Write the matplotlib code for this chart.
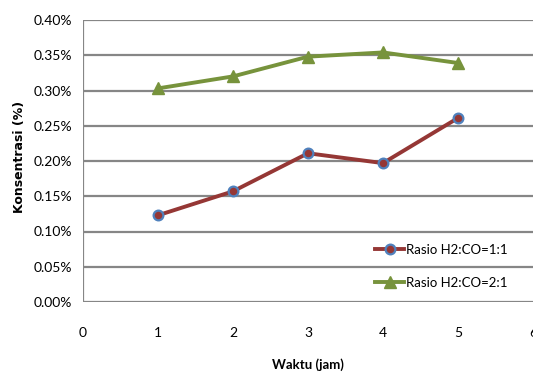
import numpy as np
import matplotlib
matplotlib.use("Agg")
import matplotlib.pyplot as plt
from matplotlib.ticker import FuncFormatter

# konsentrasi (%) terhadap waktu reaksi
waktu = [1, 2, 3, 4, 5]
rasio_1_1 = [0.123, 0.157, 0.211, 0.197, 0.261]
rasio_2_1 = [0.303, 0.320, 0.348, 0.354, 0.339]
label_1_1 = "Rasio H2:CO=1:1"
label_2_1 = "Rasio H2:CO=2:1"
y_ticks = [0.00, 0.05, 0.10, 0.15, 0.20, 0.25, 0.30, 0.35, 0.40]
x_ticks = [0, 1, 2, 3, 4, 5, 6]

plt.rcParams["font.family"] = ["Lato", "DejaVu Sans"]

fig = plt.figure(figsize=(5.33, 3.76), dpi=100)
W, H = 533, 376
ax = fig.add_axes([83 / W, 1 - 302 / H, 450 / W, 282 / H])

grid_col = "#868686"
for y in y_ticks:
    ax.axhline(y, color=grid_col, lw=1.6, zorder=1)
ax.axvline(0, color=grid_col, lw=1.6, zorder=1)

ax.plot(waktu, rasio_1_1, color="#953735", lw=2.8, marker="o", ms=7,
        mfc="#953735", mec="#4f81bd", mew=1.6, label=label_1_1, zorder=3)
ax.plot(waktu, rasio_2_1, color="#77933c", lw=2.8, marker="^", ms=8.5,
        mfc="#77933c", mec="#77933c", label=label_2_1, zorder=3)

ax.set_xlim(0, 6)
ax.set_ylim(0, 0.40)
ax.set_xticks(x_ticks)
ax.set_yticks(y_ticks)
ax.yaxis.set_major_formatter(FuncFormatter(lambda v, p: f"{v:.2f}%"))
ax.tick_params(length=0, labelsize=10, colors="black")
ax.tick_params(axis="x", pad=18)
ax.tick_params(axis="y", pad=8)
for s in ax.spines.values():
    s.set_visible(False)

ax.set_xlabel("Waktu (jam)", fontsize=9.5, fontweight="bold", labelpad=14)
fig.text(20 / W, 1 - 157 / H, "Konsentrasi (%)", rotation=90, fontsize=9,
         fontweight="bold", ha="center", va="center",
         family=["Liberation Sans Narrow", "DejaVu Sans"])

leg = ax.legend(loc="lower right", bbox_to_anchor=(0.965, 0.015), frameon=False,
                fontsize=9.5, handlelength=2.2, handletextpad=0.15,
                labelspacing=1.55, borderaxespad=0.3)

fig.savefig("out.png", dpi=100)
